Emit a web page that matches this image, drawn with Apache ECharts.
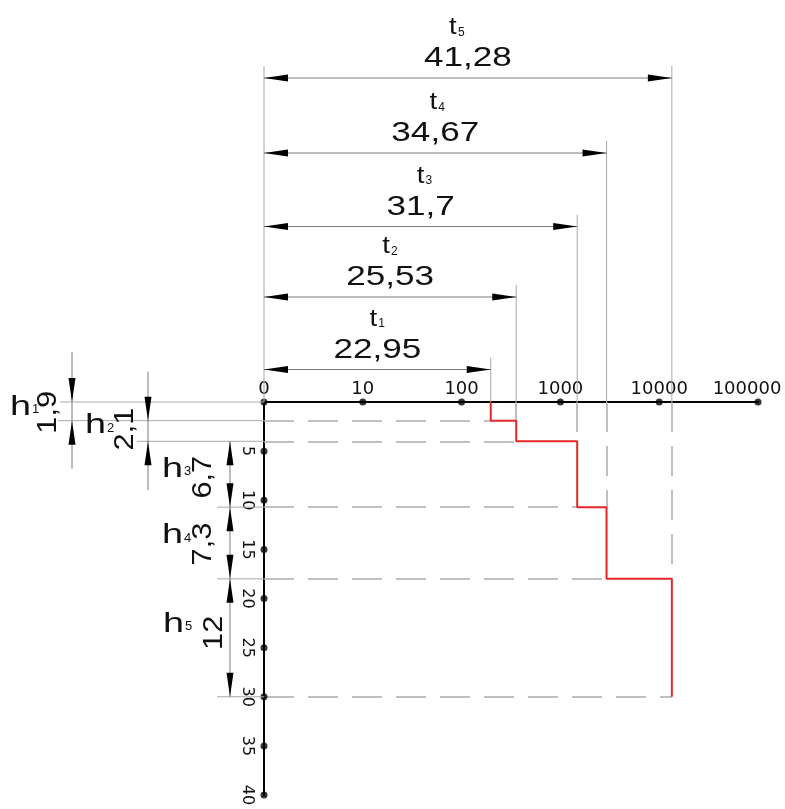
<!DOCTYPE html>
<html><head><meta charset="utf-8">
<script src="https://cdn.jsdelivr.net/npm/echarts@6/dist/echarts.min.js"></script>
<style>html,body{margin:0;padding:0;background:#fff}#c{width:785px;height:809px}</style>
</head><body><div id="c"></div>
<script>
// ---------- data ----------
const tValues = [22.95, 25.53, 31.7, 34.67, 41.28];
const tLabels = ['22,95', '25,53', '31,7', '34,67', '41,28'];
const tNames = ['1', '2', '3', '4', '5'];
const hValues = [1.9, 2.1, 6.7, 7.3, 12];
const hLabels = ['1,9', '2,1', '6,7', '7,3', '12'];
const hNames = ['1', '2', '3', '4', '5'];
const xTickValues = [0, 10, 20, 30, 40, 50];
const xTickLabels = ['0', '10', '100', '1000', '10000', '100000'];
const yTickValues = [5, 10, 15, 20, 25, 30, 35, 40];

// ---------- layout (pixels, styling only) ----------
const TOP_DIM_OFFSET = [-32.5, -105, -175.5, -249, -324]; // dimension line y relative to axis
const T_NAME_DX = [-4, -4, 0, -2, -15];
const H_DIM_X = [-192, -116, -34, -34, -34];              // dimension line x relative to y axis
const H_OUTSIDE = [true, true, false, false, false];
const H_VALUE_X = [-216, -139, -61, -61, -50];
const H_VALUE_DY = [1, -2, 3, 1, -5];
const H_NAME_X = [-254, -179, -102, -102, -101];
const H_NAME_DY = [4, 3, 3, 1, -5];
const EXT_LEFT = [-204, -206, -127, -47, -47, -47];
const H_LINE_EXT = [[-50, 48], [-49, 49]];

const FONT = '"Liberation Sans", Arial, sans-serif';
const GRAY_DIM = '#7a7a7a';
const GRAY_EXT = '#a9a9a9';
const INK = '#111111';

// derived boundaries (cumulative depths)
const depths = [];
let acc = 0;
hValues.forEach(h => { acc += h; depths.push(Math.round(acc * 10) / 10); });

const stepData = [[tValues[0], 0]];
for (let i = 0; i < tValues.length; i++) {
  stepData.push([tValues[i], depths[i]]);
  if (i < tValues.length - 1) stepData.push([tValues[i + 1], depths[i]]);
}
const dashed = [];
for (let i = 0; i < tValues.length; i++) {
  dashed.push({ coords: [[0, depths[i]], [tValues[i], depths[i]]] });
  if (i > 0) dashed.push({ coords: [[tValues[i], 0], [tValues[i], depths[i - 1]]] });
}
const dots = xTickValues.map(v => [v, 0]).concat(yTickValues.map(v => [0, v]));

const chart = echarts.init(document.getElementById('c'), null, { renderer: 'canvas' });
chart.setOption({
  animation: false,
  backgroundColor: '#fff',
  grid: { left: 264, top: 402, width: 494, height: 393, containLabel: false, outerBoundsMode: 'none' },
  xAxis: {
    type: 'value', position: 'top', min: 0, max: 50, interval: 10,
    axisLine: { show: true, lineStyle: { color: '#000', width: 2 } },
    axisTick: { show: false }, splitLine: { show: false },
    axisLabel: {
      margin: 4, color: INK, fontSize: 18, fontFamily: 'DejaVu Sans',
      formatter: v => {
        const k = xTickValues.indexOf(v);
        if (k < 0) return '';
        return k === xTickValues.length - 1 ? '{last|' + xTickLabels[k] + '}' : xTickLabels[k];
      },
      rich: { last: { fontSize: 18, fontFamily: 'DejaVu Sans', color: INK, padding: [0, 22, 0, 0] } }
    }
  },
  yAxis: {
    type: 'value', inverse: true, min: 0, max: 40, interval: 5,
    axisLine: { show: true, lineStyle: { color: '#000', width: 2 } },
    axisTick: { show: false }, splitLine: { show: false },
    axisLabel: { showMinLabel: false, rotate: -90, margin: 9, color: INK, fontSize: 16, fontFamily: 'DejaVu Sans' }
  },
  series: [
    {
      type: 'lines', coordinateSystem: 'cartesian2d', data: dashed, silent: true, z: 2,
      lineStyle: { color: '#aaaaaa', width: 1.5, type: [30, 14], opacity: 1 }
    },
    {
      type: 'line', data: stepData, symbol: 'none', z: 5, silent: true,
      lineStyle: { color: '#e5262a', width: 2 }
    },
    {
      type: 'scatter', data: dots, symbolSize: 7, z: 10, silent: true,
      itemStyle: { color: '#000' }
    }
  ]
});

// ---------- dimension annotations, placed through the chart's scales ----------
const P = (x, y) => chart.convertToPixel({ gridIndex: 0 }, [x, y]);
const [x0, y0] = P(0, 0);
const els = [];
const line = (x1, y1, x2, y2, c, w) => els.push({ type: 'line', silent: true, z: 20,
  shape: { x1, y1, x2, y2 }, style: { stroke: c, lineWidth: w || 1 } });
const tri = pts => els.push({ type: 'polygon', silent: true, z: 21, shape: { points: pts }, style: { fill: '#000' } });
const text = (t, x, y, size, opt) => els.push(Object.assign({ type: 'text', silent: true, z: 22, x, y,
  style: { text: t, font: size + 'px ' + FONT, fill: INK, align: 'center', verticalAlign: 'middle' } }, opt || {}));
const AL = 24, AW = 3.5;

// top dimensions (t)
line(x0, y0 + TOP_DIM_OFFSET[4] - 12, x0, y0, GRAY_EXT, 1);
tValues.forEach((t, i) => {
  const xt = P(t, 0)[0];
  const ya = y0 + TOP_DIM_OFFSET[i];
  line(xt, ya - 12, xt, y0, GRAY_EXT, 1);
  line(x0, ya, xt, ya, GRAY_DIM, 1);
  tri([[x0, ya], [x0 + AL, ya - AW], [x0 + AL, ya + AW]]);
  tri([[xt, ya], [xt - AL, ya - AW], [xt - AL, ya + AW]]);
  const xc = (x0 + xt) / 2;
  text(tLabels[i], xc, ya - 19, 27, { scaleX: 1.3 });
  const tx = xc + T_NAME_DX[i];
  text('t', tx, ya - 50, 23, { scaleX: 1.2 });
  els.push({ type: 'text', silent: true, z: 22, x: tx + 5, y: ya - 45.5,
    style: { text: tNames[i], font: '12px ' + FONT, fill: INK, align: 'left', verticalAlign: 'middle' } });
});

// left extension lines at layer boundaries
const bounds = [0].concat(depths);
bounds.forEach((d, i) => {
  const yy = P(0, d)[1];
  line(x0 + EXT_LEFT[i], yy, x0, yy, GRAY_EXT, 1);
});

// left dimensions (h)
hValues.forEach((h, i) => {
  const ya = P(0, bounds[i])[1];
  const yb = P(0, bounds[i + 1])[1];
  const xd = x0 + H_DIM_X[i];
  if (H_OUTSIDE[i]) {
    line(xd, ya + H_LINE_EXT[i][0], xd, yb + H_LINE_EXT[i][1], GRAY_DIM, 1);
    tri([[xd, ya], [xd - AW, ya - AL], [xd + AW, ya - AL]]);
    tri([[xd, yb], [xd - AW, yb + AL], [xd + AW, yb + AL]]);
  } else {
    line(xd, ya, xd, yb, GRAY_DIM, 1);
    tri([[xd, ya], [xd - AW, ya + AL], [xd + AW, ya + AL]]);
    tri([[xd, yb], [xd - AW, yb - AL], [xd + AW, yb - AL]]);
  }
  const mid = (ya + yb) / 2;
  text(hLabels[i], x0 + H_VALUE_X[i], mid + H_VALUE_DY[i], 28, { rotation: Math.PI / 2, scaleX: 1.1 });
  const nb = mid + H_NAME_DY[i];
  const hx = x0 + H_NAME_X[i];
  els.push({ type: 'text', silent: true, z: 22, x: hx, y: nb - 8.4, scaleX: 1.35,
    style: { text: 'h', font: '28px ' + FONT, fill: INK, align: 'left', verticalAlign: 'middle' } });
  els.push({ type: 'text', silent: true, z: 22, x: hx + 22, y: nb - 6,
    style: { text: hNames[i], font: '13px ' + FONT, fill: INK, align: 'left', verticalAlign: 'middle' } });
});

chart.setOption({ graphic: { elements: els } });
</script>
</body></html>
